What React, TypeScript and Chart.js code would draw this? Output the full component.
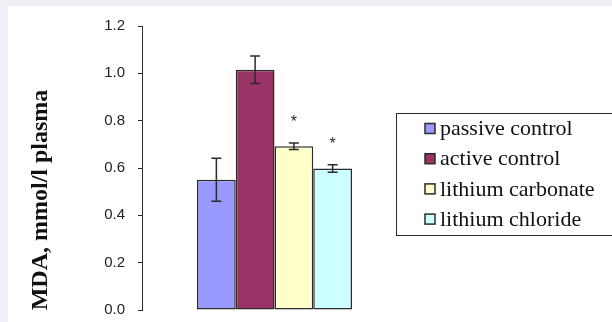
import React, { useEffect, useRef } from "react";
import { Chart, registerables } from "chart.js";

Chart.register(...registerables);

// MDA concentration per group (mmol/l plasma)
const groups = ["passive control", "active control", "lithium carbonate", "lithium chloride"];
const mdaMeans = [0.55, 1.015, 0.692, 0.598];
const mdaErrors = [0.091, 0.058, 0.014, 0.016];
const significance = ["", "", "*", "*"];
const groupColors = ["#9999ff", "#993366", "#ffffcc", "#ccffff"];
const yTicks = [0, 0.2, 0.4, 0.6, 0.8, 1.0, 1.2];
const yTitle = "MDA, mmol/l plasma";

const INK = "#2b2b2b";

// Error bars and significance stars on top of each bar
const errorBarPlugin = {
  id: "errorBars",
  afterDatasetsDraw(chart: any) {
    const { ctx, scales } = chart;
    const y = scales.y;
    ctx.save();
    ctx.strokeStyle = INK;
    ctx.lineWidth = 1.5;
    chart.data.datasets.forEach((ds: any, i: number) => {
      const el = chart.getDatasetMeta(i).data[0];
      if (!el) return;
      const v = ds.data[0];
      const e = ds.errors[0];
      const x = el.x;
      const top = y.getPixelForValue(v + e);
      const bot = y.getPixelForValue(v - e);
      const cap = 5;
      ctx.beginPath();
      ctx.moveTo(x, top);
      ctx.lineTo(x, bot);
      ctx.moveTo(x - cap, top);
      ctx.lineTo(x + cap, top);
      ctx.moveTo(x - cap, bot);
      ctx.lineTo(x + cap, bot);
      ctx.stroke();
      if (ds.mark) {
        ctx.fillStyle = INK;
        ctx.font = "16px 'Liberation Sans', Arial, sans-serif";
        ctx.textAlign = "center";
        ctx.textBaseline = "middle";
        ctx.fillText(ds.mark, x, top - 20);
      }
    });
    ctx.restore();
  },
};

// Boxed legend at the right and the rotated y-axis title
const decorPlugin = {
  id: "decor",
  afterDraw(chart: any) {
    const { ctx } = chart;
    ctx.save();
    // y-axis title
    ctx.translate(33, 194);
    ctx.rotate(-Math.PI / 2);
    ctx.fillStyle = "#111";
    ctx.font = "bold 24px 'Liberation Serif', 'Times New Roman', serif";
    ctx.textAlign = "center";
    ctx.textBaseline = "middle";
    ctx.fillText(yTitle, 0, 0);
    ctx.restore();

    ctx.save();
    const bx = 388.5;
    const by = 107.5;
    const bh = 122;
    ctx.strokeStyle = INK;
    ctx.lineWidth = 1;
    ctx.strokeRect(bx, by, 260, bh);
    ctx.font = "22px 'Liberation Serif', 'Times New Roman', serif";
    ctx.textBaseline = "middle";
    ctx.textAlign = "left";
    chart.data.datasets.forEach((ds: any, i: number) => {
      const cy = 122.5 + i * 30.2;
      ctx.fillStyle = ds.backgroundColor;
      ctx.fillRect(417, cy - 5, 10, 10);
      ctx.strokeStyle = INK;
      ctx.lineWidth = 1.5;
      ctx.strokeRect(417, cy - 5, 10, 10);
      ctx.fillStyle = "#111";
      ctx.fillText(ds.label, 432, cy + 1);
    });
    ctx.restore();
  },
};

export default function App() {
  const canvasRef = useRef<HTMLCanvasElement | null>(null);

  useEffect(() => {
    if (!canvasRef.current) return;
    const chart = new Chart(canvasRef.current, {
      type: "bar",
      data: {
        labels: [""],
        datasets: groups.map((g, i) => ({
          label: g,
          data: [mdaMeans[i]],
          errors: [mdaErrors[i]],
          mark: significance[i],
          backgroundColor: groupColors[i],
          borderColor: INK,
          borderWidth: 1.5,
          borderSkipped: false,
          categoryPercentage: 0.585,
          barPercentage: 1,
        })) as any,
      },
      options: {
        responsive: false,
        animation: false,
        layout: { padding: { left: 0, top: 20, right: 205, bottom: 12 } },
        plugins: {
          legend: { display: false },
          tooltip: { enabled: false },
        },
        scales: {
          x: { display: false },
          y: {
            min: 0,
            max: 1.2,
            afterBuildTicks: (scale: any) => {
              scale.ticks = yTicks.map((v) => ({ value: v }));
            },
            afterFit: (scale: any) => {
              scale.width = 134;
              // the outer layout padding alone sets the plot's top and bottom
              scale.paddingTop = 0;
              scale.paddingBottom = 0;
            },
            ticks: {
              callback: (v: any) => Number(v).toFixed(1),
              font: { family: "'Liberation Sans', Arial, sans-serif", size: 15 },
              color: "#222",
              padding: 13,
            },
            grid: {
              drawOnChartArea: false,
              drawTicks: true,
              tickLength: 4,
              color: INK,
            },
            border: { display: true, color: INK, width: 1 },
          },
        },
      },
      plugins: [errorBarPlugin, decorPlugin],
    });
    return () => chart.destroy();
  }, []);

  return (
    <div
      style={{
        position: "fixed",
        left: 0,
        top: 0,
        width: 612,
        height: 322,
        background: "#eff0f6",
        overflow: "hidden",
      }}
    >
      <canvas
        ref={canvasRef}
        width={604}
        height={316}
        style={{ position: "absolute", left: 8, top: 6, background: "#ffffff", display: "block" }}
      />
    </div>
  );
}
